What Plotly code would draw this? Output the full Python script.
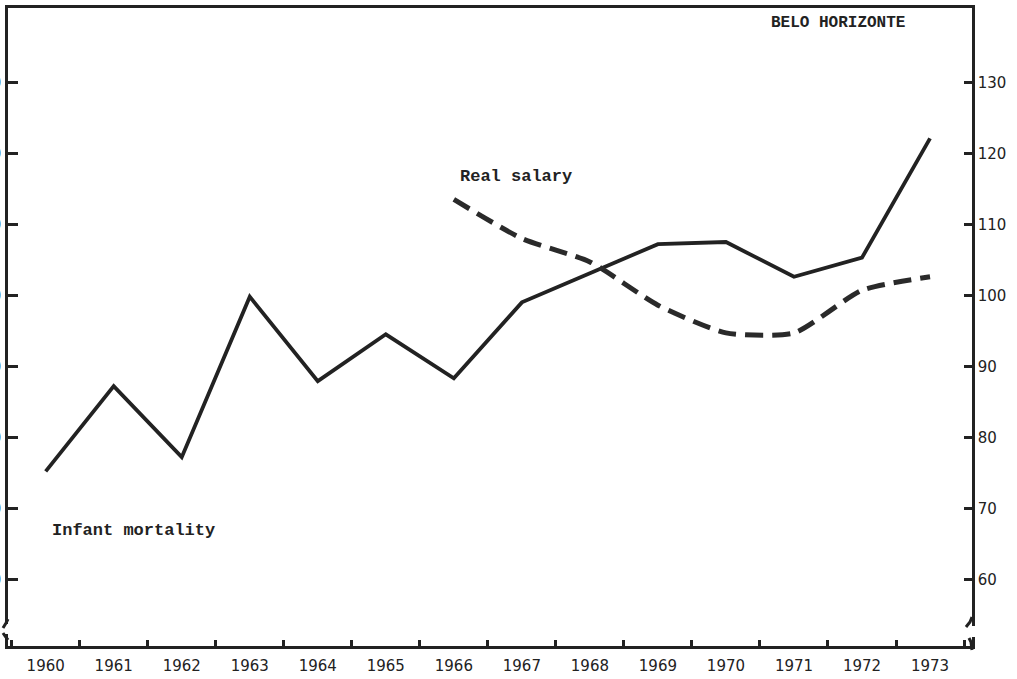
import plotly.graph_objects as go

years = [1960, 1961, 1962, 1963, 1964, 1965, 1966, 1967, 1968, 1969, 1970, 1971, 1972, 1973]
infant_mortality = [75.3, 87.3, 77.3, 99.9, 88.0, 94.6, 88.4, 99.1, 103.2, 107.3, 107.6, 102.7, 105.4, 122.2]

salary_years = [1966, 1967, 1968, 1969, 1970, 1971, 1972, 1973]
real_salary = [113.6, 108.1, 104.8, 98.7, 94.8, 94.8, 100.8, 102.7]

y_ticks = [60, 70, 80, 90, 100, 110, 120, 130]
y_tick_labels = ["60", "70", "80", "90", "100", "110", "120", "130"]
x_tick_labels = [str(y) for y in years]

INK = "#222222"
FONT_NUM = "DejaVu Sans"
FONT_TXT = "Liberation Mono"

W, H = 1017, 679
ML, MR, MT, MB = 8, 45, 8, 33
PW, PH = W - ML - MR, H - MT - MB


def px(x, y):
    """Pixel position -> paper coordinates (for decorative axis-break marks)."""
    return (x - ML) / PW, (H - MB - y) / PH


def path(points):
    s = ""
    for i, (x, y) in enumerate(points):
        X, Y = px(x, y)
        s += ("M" if i == 0 else "L") + f"{X:.5f},{Y:.5f} "
    return s


fig = go.Figure()
fig.add_trace(go.Scatter(
    x=years, y=infant_mortality, mode="lines",
    line=dict(color=INK, width=3.8), yaxis="y", showlegend=False))
fig.add_trace(go.Scatter(
    x=salary_years, y=real_salary, mode="lines",
    line=dict(color="#2a2a2a", width=5, dash="18px,9px", shape="spline", smoothing=0.6),
    yaxis="y2", showlegend=False))

yr = [50.7, 140.56]

shapes = []
# gaps in the vertical axes (axis breaks)
for (x0, y0, y1) in [(8, 624, 634), (972, 626, 637)]:
    a, b = px(x0, y0), px(x0, y1)
    shapes.append(dict(type="line", xref="paper", yref="paper", x0=a[0], y0=a[1], x1=b[0], y1=b[1],
                       line=dict(color="white", width=6), layer="above"))
# break hooks
for pts in [[(8, 619), (6, 623), (3, 628)],
            [(3, 633), (5, 636), (8, 640)],
            [(972, 617), (970, 622), (966, 627)],
            [(969, 638), (971, 642), (972, 650)]]:
    shapes.append(dict(type="path", xref="paper", yref="paper", path=path(pts),
                       line=dict(color=INK, width=3), layer="above"))

fig.update_layout(
    template="none",
    width=W, height=H,
    margin=dict(l=ML, r=MR, t=MT, b=MB, autoexpand=False),
    paper_bgcolor="white", plot_bgcolor="white",
    xaxis=dict(
        range=[1959.446, 1973.617], tickvals=years, ticktext=x_tick_labels,
        ticks="", showgrid=False, zeroline=False,
        showline=True, linecolor=INK, linewidth=2.5, mirror=True,
        tickfont=dict(family=FONT_NUM, size=15, color=INK),
        ticklabelstandoff=4,
        minor=dict(ticks="inside", tick0=1960.5, dtick=1, ticklen=6, tickwidth=2.5, tickcolor=INK),
        automargin=False, fixedrange=True,
    ),
    yaxis=dict(
        range=yr, tickvals=y_ticks, ticktext=y_tick_labels,
        ticks="inside", ticklen=10, tickwidth=2.5, tickcolor=INK,
        showgrid=False, zeroline=False,
        showline=True, linecolor=INK, linewidth=2.5,
        tickfont=dict(family=FONT_NUM, size=15, color=INK),
        ticklabelstandoff=1,
        automargin=False,
    ),
    yaxis2=dict(
        range=yr, tickvals=y_ticks, ticktext=y_tick_labels,
        overlaying="y", side="right",
        ticks="inside", ticklen=8, tickwidth=2.5, tickcolor=INK,
        showgrid=False, zeroline=False,
        showline=True, linecolor=INK, linewidth=2.5,
        tickfont=dict(family=FONT_NUM, size=15, color=INK),
        automargin=False,
    ),
    shapes=shapes,
    annotations=[
        dict(x=1971.64, y=138.45, xref="x", yref="y", text="<b>BELO HORIZONTE</b>",
             showarrow=False, font=dict(family=FONT_TXT, size=16, color=INK)),
        dict(x=1966.92, y=116.8, xref="x", yref="y", text="<b>Real salary</b>",
             showarrow=False, font=dict(family=FONT_TXT, size=17, color=INK)),
        dict(x=1961.29, y=67.0, xref="x", yref="y", text="<b>Infant mortality</b>",
             showarrow=False, font=dict(family=FONT_TXT, size=17, color=INK)),
    ],
)

fig.write_html("out.html", config={"displayModeBar": False},
               post_script="document.body.style.margin='0';document.body.style.overflow='hidden';")
